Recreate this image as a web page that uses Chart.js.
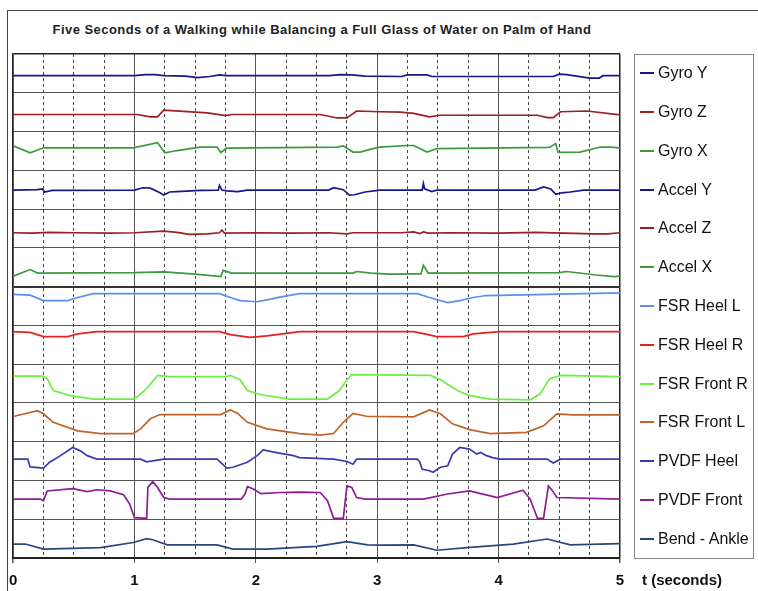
<!DOCTYPE html>
<html>
<head>
<meta charset="utf-8">
<script src="https://cdn.jsdelivr.net/npm/chart.js@4.4.1/dist/chart.umd.min.js"></script>
<style>
  html, body { margin: 0; padding: 0; background: #fff; }
  body { width: 758px; height: 591px; position: relative; overflow: hidden; font-family: "Liberation Sans", Arial, sans-serif; }
  #frame { position: absolute; left: 7px; top: 10px; width: 800px; height: 700px; border-left: 1px solid #444; border-top: 1px solid #444; }
  #wrap { position: absolute; left: 0; top: 0; width: 758px; height: 600px; }
  #title { position: absolute; left: 0; width: 644px; top: 22px; text-align: center; font-weight: bold; font-size: 13px; letter-spacing: 0.45px; color: #222; }
  #legend { position: absolute; border: 1px solid #888; background: #fff; box-sizing: border-box; }
  .item { position: absolute; left: 23px; height: 20px; line-height: 20px; font-size: 16px; color: #111; white-space: nowrap; }
  .mark { position: absolute; left: 5px; width: 14px; height: 0; border-top: 2px solid; }
  #xname { position: absolute; left: 642px; top: 571px; font-weight: bold; font-size: 15px; color: #111; }
</style>
</head>
<body>
<div id="frame"></div>
<div id="title">Five Seconds of a Walking while Balancing a Full Glass of Water on Palm of Hand</div>
<div id="wrap"><canvas id="walk-chart"></canvas></div>
<div id="legend"></div>
<div id="xname">t (seconds)</div>
<script>
/* 各信号: [時間(秒), 帯の中の高さ(0=下端, 1=上端)] */
var gyroY = [[0,.44],[1.0,.44],[1.09,.47],[1.17,.47],[1.24,.44],[1.42,.43],[1.52,.39],[1.62,.42],[1.70,.46],[1.75,.44],
  [2.61,.44],[2.69,.47],[2.79,.46],[2.9,.43],[3.2,.42],[3.25,.46],[3.41,.46],[3.45,.42],[4.45,.42],[4.5,.48],[4.56,.47],
  [4.75,.38],[4.83,.38],[4.86,.44],[5,.44]];
var gyroZ = [[0,.44],[1.02,.44],[1.13,.38],[1.19,.38],[1.24,.55],[1.6,.48],[1.75,.41],[1.8,.44],[2.53,.44],[2.67,.35],
  [2.75,.35],[2.83,.53],[3.02,.51],[3.19,.5],[3.3,.47],[3.43,.38],[3.52,.42],[4.32,.42],[4.4,.36],[4.45,.36],[4.51,.51],
  [4.73,.53],[5,.43]];
var gyroX = [[0,.63],[0.14,.45],[0.25,.58],[0.99,.58],[1.19,.71],[1.25,.45],[1.35,.51],[1.54,.6],[1.68,.6],[1.71,.46],
  [1.76,.57],[2.67,.6],[2.72,.63],[2.8,.47],[2.86,.47],[2.94,.54],[3.02,.6],[3.25,.64],[3.3,.64],[3.41,.47],[3.49,.56],
  [4.42,.59],[4.47,.69],[4.49,.46],[4.67,.47],[4.84,.6],[4.92,.6],[5,.58]];
var accelY = [[0,.49],[0.2,.5],[0.24,.52],[0.26,.44],[0.32,.48],[1.0,.49],[1.07,.55],[1.13,.54],[1.21,.42],[1.24,.36],
  [1.29,.44],[1.35,.45],[1.54,.48],[1.69,.49],[1.70,.61],[1.72,.49],[1.76,.47],[1.85,.45],[1.93,.49],[2.6,.49],[2.64,.55],
  [2.72,.5],[2.77,.36],[2.81,.37],[2.9,.44],[3.02,.49],[3.37,.49],[3.38,.66],[3.39,.52],[3.45,.45],[3.49,.49],[4.3,.49],
  [4.37,.57],[4.43,.52],[4.47,.38],[4.52,.42],[4.59,.44],[4.7,.49],[5,.49]];
var accelZ = [[0,.39],[0.15,.38],[0.3,.4],[0.5,.39],[0.8,.38],[1.0,.39],[1.24,.43],[1.35,.4],[1.45,.35],[1.6,.36],
  [1.7,.39],[1.72,.46],[1.74,.38],[2.0,.39],[2.3,.38],[2.6,.39],[2.75,.36],[2.8,.39],[3.2,.39],[3.3,.41],[3.35,.37],
  [3.38,.41],[3.42,.38],[3.6,.39],[4.0,.38],[4.3,.4],[4.78,.36],[4.9,.36],[5,.39]];
var accelX = [[0,.27],[0.14,.44],[0.2,.35],[1.0,.36],[1.24,.38],[1.5,.32],[1.71,.26],[1.73,.42],[1.8,.35],[2.8,.35],
  [2.83,.39],[2.95,.35],[3.1,.32],[3.3,.33],[3.36,.33],[3.38,.55],[3.42,.35],[4.5,.36],[4.56,.39],[4.8,.3],[4.95,.26],[5,.27]];
var fsrHeelL = [[0,.8],[0.14,.78],[0.25,.64],[0.45,.64],[0.53,.72],[0.66,.82],[1.7,.82],[1.79,.72],[1.87,.64],[2.01,.61],
  [2.09,.66],[2.22,.74],[2.36,.82],[3.33,.82],[3.43,.72],[3.58,.59],[3.68,.64],[3.79,.72],[3.9,.77],[5,.84]];
var fsrHeelR = [[0,.84],[0.14,.82],[0.25,.71],[0.45,.71],[0.53,.78],[0.69,.84],[1.7,.84],[1.79,.76],[1.95,.69],[2.09,.73],
  [2.22,.78],[2.36,.84],[3.3,.84],[3.41,.77],[3.49,.71],[3.71,.71],[3.79,.78],[4.01,.84],[5,.84]];
var fsrFrontR = [[0,.69],[0.24,.69],[0.28,.63],[0.33,.32],[0.47,.19],[0.66,.1],[0.99,.1],[1.02,.15],[1.1,.37],[1.19,.71],
  [1.29,.68],[1.75,.68],[1.79,.71],[1.87,.6],[1.93,.32],[2.04,.21],[2.28,.1],[2.59,.1],[2.69,.32],[2.75,.6],[2.79,.73],
  [3.44,.71],[3.52,.6],[3.66,.32],[3.76,.19],[3.93,.1],[4.26,.08],[4.34,.23],[4.42,.62],[4.51,.71],[5,.68]];
var fsrFrontL = [[0,.65],[0.2,.8],[0.25,.72],[0.33,.5],[0.53,.28],[0.72,.21],[0.99,.21],[1.05,.33],[1.13,.59],[1.21,.7],
  [1.71,.7],[1.79,.82],[1.85,.73],[1.93,.5],[2.09,.33],[2.36,.21],[2.53,.17],[2.64,.21],[2.72,.5],[2.8,.73],[2.92,.65],
  [3.02,.65],[3.3,.64],[3.43,.82],[3.52,.72],[3.62,.46],[3.76,.31],[3.93,.21],[4.23,.24],[4.37,.41],[4.48,.72],[4.61,.69],[5,.69]];
var pvdfHeel = [[0,.55],[0.12,.55],[0.14,.35],[0.25,.32],[0.3,.47],[0.39,.64],[0.49,.85],[0.55,.77],[0.61,.64],[0.69,.55],
  [1.05,.55],[1.1,.48],[1.24,.55],[1.68,.55],[1.76,.32],[1.81,.34],[1.93,.47],[2.01,.64],[2.06,.79],[2.17,.72],[2.31,.64],
  [2.36,.59],[2.64,.55],[2.75,.49],[2.8,.42],[2.83,.55],[3.33,.55],[3.35,.48],[3.37,.29],[3.43,.25],[3.46,.21],[3.52,.34],
  [3.58,.38],[3.62,.68],[3.68,.85],[3.76,.81],[3.82,.68],[3.85,.72],[3.9,.64],[3.95,.59],[4.01,.55],[4.4,.55],[4.45,.45],
  [4.51,.55],[5,.55]];
var pvdfFront = [[0,.52],[0.22,.52],[0.25,.48],[0.28,.73],[0.49,.79],[0.61,.71],[0.69,.76],[0.8,.73],[0.91,.63],[0.96,.39],
  [1.0,.04],[1.1,.02],[1.11,.82],[1.15,.97],[1.19,.82],[1.24,.56],[1.29,.52],[1.88,.52],[1.91,.65],[1.93,.84],[1.98,.78],
  [2.04,.66],[2.2,.69],[2.36,.7],[2.53,.69],[2.59,.48],[2.64,.03],[2.72,.02],[2.75,.86],[2.79,.82],[2.83,.56],[2.9,.52],
  [3.38,.52],[3.58,.65],[3.76,.73],[3.99,.56],[4.2,.75],[4.26,.52],[4.32,.02],[4.37,.02],[4.41,.86],[4.44,.75],[4.48,.56],[5,.52]];
var bendAnkle = [[0,.36],[0.1,.36],[0.25,.23],[0.72,.27],[0.99,.4],[1.1,.5],[1.15,.47],[1.27,.34],[1.68,.34],[1.81,.23],
  [2.09,.23],[2.5,.3],[2.75,.42],[2.92,.34],[3.02,.33],[3.3,.34],[3.49,.2],[3.74,.27],[4.12,.36],[4.4,.49],[4.59,.34],[5,.37]];

var seriesNames = ['Gyro Y', 'Gyro Z', 'Gyro X', 'Accel Y', 'Accel Z', 'Accel X', 'FSR Heel L', 'FSR Heel R',
  'FSR Front R', 'FSR Front L', 'PVDF Heel', 'PVDF Front', 'Bend - Ankle'];
var seriesValues = [gyroY, gyroZ, gyroX, accelY, accelZ, accelX, fsrHeelL, fsrHeelR, fsrFrontR, fsrFrontL,
  pvdfHeel, pvdfFront, bendAnkle];
var xTicks = [0, 1, 2, 3, 4, 5];

var lineColors = ['#17178a', '#9a1f1f', '#3b9a3b', '#17178a', '#9a1f1f', '#3b9a3b', '#5b8ef0', '#e8201c',
  '#6cf040', '#c0622a', '#3a3ab0', '#8e1a96', '#27477f'];

function initWalkChart() {
  var n = seriesNames.length;
  var datasets = [];
  for (var i = 0; i < n; i++) {
    /* 上から順に帯を割り当て */
    var base = n - 1 - i;
    datasets.push({
      label: seriesNames[i],
      data: seriesValues[i].map(function (p) { return { x: p[0], y: base + p[1] }; }),
      borderColor: lineColors[i],
      borderWidth: 1.7,
      pointRadius: 0,
      tension: 0,
      fill: false
    });
  }

  var ctx = document.getElementById('walk-chart');
  var chart = new Chart(ctx, {
    type: 'line',
    data: { datasets: datasets },
    options: {
      responsive: true,
      maintainAspectRatio: false,
      animation: false,
      events: [],
      layout: { padding: { left: 13, right: 138, top: 54, bottom: 1 } },
      plugins: { legend: { display: false }, tooltip: { enabled: false }, title: { display: false } },
      scales: {
        x: {
          type: 'linear', min: 0, max: 5,
          afterBuildTicks: function (axis) { axis.ticks = xTicks.map(function (v) { return { value: v }; }); },
          ticks: { padding: 9, color: '#111', font: { family: '"Liberation Sans", Arial, sans-serif', size: 15, weight: 'bold' },
            maxRotation: 0, autoSkip: false },
          grid: {
            color: function (c) { return (c.tick && (c.tick.value === 0 || c.tick.value === 5)) ? '#222' : '#555'; },
            lineWidth: function (c) { return (c.tick && (c.tick.value === 0 || c.tick.value === 5)) ? 1.5 : 1; },
            drawTicks: true, tickLength: 5, tickColor: '#555'
          },
          border: { display: true, color: '#222', width: 1.5 }
        },
        x2: {
          type: 'linear', position: 'top', min: 0, max: 5,
          ticks: { display: false, stepSize: 0.25 },
          grid: {
            color: function (c) { return (c.tick && Number.isInteger(c.tick.value)) ? 'rgba(0,0,0,0)' : '#444'; },
            lineWidth: 1, drawTicks: false
          },
          border: { display: false, dash: [3, 3] }
        },
        y: {
          type: 'linear', min: 0, max: n,
          ticks: { display: false, stepSize: 1 },
          grid: {
            color: function (c) {
              var v = c.tick ? c.tick.value : -1;
              if (v === n || v === 0) return '#222';
              if (v === 7) return '#333';
              return '#555';
            },
            lineWidth: function (c) {
              var v = c.tick ? c.tick.value : -1;
              if (v === n) return 1.5;
              if (v === 7) return 2;
              return 1;
            },
            drawTicks: false
          },
          border: { display: true, color: '#222', width: 1.5 }
        }
      }
    }
  });

  /* 凡例 (帯の中央に合わせる) */
  var area = chart.chartArea;
  var yScale = chart.scales.y;
  var legend = document.getElementById('legend');
  var legendTop = area.top;
  legend.style.left = '634px';
  legend.style.top = legendTop + 'px';
  legend.style.width = '120px';
  legend.style.height = (area.bottom - area.top + 1) + 'px';
  for (var j = 0; j < n; j++) {
    var cy = yScale.getPixelForValue(n - j - 0.5) - legendTop - 1;
    var mark = document.createElement('div');
    mark.className = 'mark';
    mark.style.borderTopColor = lineColors[j];
    mark.style.top = (cy - 1) + 'px';
    legend.appendChild(mark);
    var item = document.createElement('div');
    item.className = 'item';
    item.style.top = (cy - 10) + 'px';
    item.textContent = seriesNames[j];
    legend.appendChild(item);
  }
}

initWalkChart();
</script>
</body>
</html>
